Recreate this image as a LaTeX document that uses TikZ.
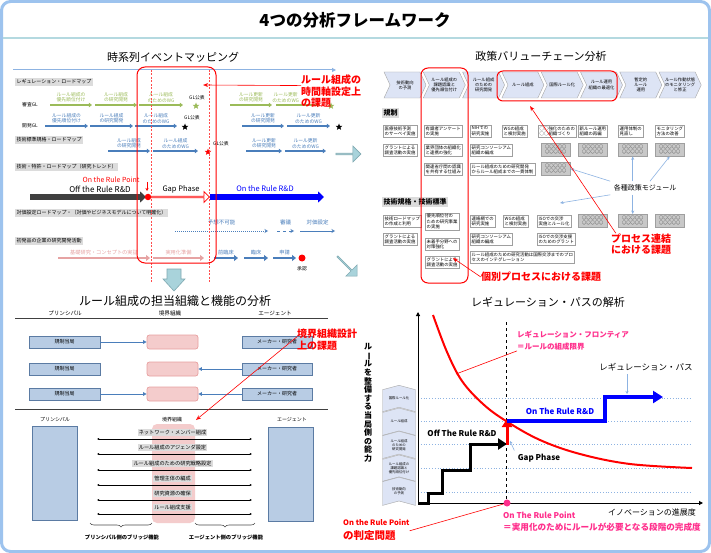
\documentclass[tikz,border=0pt]{standalone}
\usepackage{fontspec}
\setmainfont{Noto Sans CJK JP}
\usetikzlibrary{arrows.meta,calc,positioning,shapes.symbols,shapes.arrows,shapes.geometric,decorations.pathreplacing}

\definecolor{frameblue}{HTML}{9DC3EE}
\definecolor{titleline}{HTML}{B4D9E0}
\definecolor{tlblue}{HTML}{4A7EBB}
\definecolor{tlgreen}{HTML}{9BBB59}
\definecolor{tlpink}{HTML}{E6A3A3}
\definecolor{lblgray}{HTML}{DCDCDC}
\definecolor{chevfill}{HTML}{DDE4F5}
\definecolor{modgray}{HTML}{C8C8C8}
\definecolor{roleblue}{HTML}{B8CCE4}
\definecolor{roledraw}{HTML}{5B7BA3}
\definecolor{bndpink}{HTML}{F4CCCC}
\definecolor{bnddraw}{HTML}{E8A0A0}
\definecolor{tealfill}{HTML}{A9D3DB}
\definecolor{tealdraw}{HTML}{7FA9B1}
\definecolor{hotpink}{HTML}{FF2E8C}
\definecolor{lineblue}{HTML}{8DB3E2}
\definecolor{darkarr}{HTML}{404040}

\newcommand{\fsz}[1]{\fontsize{#1}{\dimexpr #1pt*6/5\relax}\selectfont}

\begin{document}
\begin{tikzpicture}[x=1pt,y=-1pt,
  qtitle/.style={font=\fsz{11}},
  evtext/.style={font=\fsz{4.8},align=center,inner sep=0.5pt},
  rmlabel/.style={fill=lblgray,font=\fsz{5},inner sep=1.3pt,anchor=west},
  seclabel/.style={fill=lblgray,font=\bfseries\fsz{7},inner sep=1.5pt,anchor=west},
  tlarr/.style={line width=1.5pt,-{Triangle[length=3.2pt,width=4.5pt]}},
  bigarr/.style={line width=6pt,-{Triangle[length=6pt,width=11pt]}},
  starnode/.style={star,star points=5,star point ratio=2.3,inner sep=0pt,minimum size=7pt},
  dotnode/.style={circle,inner sep=0pt,minimum size=6.5pt},
  tealarr/.style={single arrow,fill=tealfill,draw=tealdraw,line width=0.6pt,single arrow head extend=3pt,inner sep=0pt},
  chev/.style={signal,signal to=east,signal from=west,signal pointer angle=130,draw=gray!70,fill=chevfill,minimum width=42pt,minimum height=26pt,inner sep=0pt,font=\fsz{4.3},align=center},
  vchev/.style={signal,signal to=north,signal from=south,signal pointer angle=150,draw=gray!70,fill=chevfill,minimum width=33pt,minimum height=23pt,inner sep=0pt,font=\fsz{3.4},align=center},
  vcbox/.style={draw=gray!75,fill=white,font=\fsz{4.4},align=left,inner xsep=1.5pt,inner ysep=1pt,anchor=north west,minimum height=12pt},
  modbox/.style={draw=gray!75,fill=modgray,font=\fsz{4.2},align=center,inner sep=0.6pt,anchor=north west,minimum width=29pt,minimum height=13pt},
  callout/.style={text=red,font=\bfseries\fontsize{10}{11.5}\selectfont,align=left,inner sep=0pt},
  redline/.style={red,line width=0.6pt,-{Stealth[length=5pt,width=4pt,open]}},
  modline/.style={lineblue,line width=0.6pt,-{Stealth[length=3.5pt,width=3pt]}},
  rolebox/.style={draw=roledraw,fill=roleblue,line width=0.7pt,minimum width=71pt,minimum height=12pt,font=\fsz{5}},
  bndbox/.style={draw=bnddraw,fill=bndpink,line width=0.7pt,rounded corners=2.5pt,minimum width=51pt,minimum height=14pt},
  flow/.style={tlblue,line width=0.8pt,-{Triangle[length=3.5pt,width=3.5pt]}},
  bridge/.style={line width=0.8pt,{Latex[length=2.2pt,width=2.4pt]}-{Latex[length=2.2pt,width=2.4pt]}},
  fnlabel/.style={fill=lblgray,font=\fsz{5.2},inner sep=1.2pt},
  colhead/.style={font=\fsz{5.6}},
  pinktext/.style={text=hotpink,font=\bfseries\fsz{8},anchor=west,inner sep=0pt}]

% frame and main title
\useasboundingbox (0,0) rectangle (711,553);
\draw[frameblue,line width=3pt,rounded corners=9pt,fill=white] (1.5,1.5) rectangle (709.5,551.5);
\draw[titleline,line width=2pt] (3,38) -- (708,38);
\node[font=\bfseries\fsz{16.5}] (maintitle) at (355,20) {4つの分析フレームワーク};

\node[qtitle] (tlttl) at (173,57) {時系列イベントマッピング};
\node[qtitle] (trttl) at (541,56) {政策バリューチェーン分析};
\node[qtitle,font=\fsz{12}] (blttl) at (175,301) {ルール組成の担当組織と機能の分析};
\node[qtitle] (brttl) at (548,302) {レギュレーション・パスの解析};

%% time line mapping
\coordinate (axs) at (13,70);
\coordinate (axe) at (336,70);
\draw[lineblue,line width=1pt,-{Triangle[length=4pt,width=4pt]}] (axs) -- (axe);

\node[rmlabel] (lrm) at (15,82) {レギュレーション・ロードマップ};
\node[rmlabel] (ltech) at (15,140) {技術標準規格・ロードマップ};
\node[rmlabel] (lpat) at (15,167) {技術・特許・ロードマップ（研究トレンド）};
\node[rmlabel] (lprice) at (15,213) {対価設定ロードマップ・（対価やビジネスモデルについて明確化）};
\node[rmlabel] (lfirm) at (15,241) {初発品の企業の研究開発活動};

\node[font=\fsz{4.8}] (gl1) at (30,105) {審査GL};
\node[font=\fsz{4.8}] (gl2) at (30,126) {開発GL};

\foreach \n/\a/\b/\p/\txt in {1/50/92/0.5/{ルール組成の\\優先順位付け},2/95/137/0.5/{ルール組成\\の研究開発},3/139/183/0.5/{ルール組成\\のためのWG},4/230/272/0.5/{ルール更新\\の研究開発},5/276/320/0.22/{ルール更新\\のためのWG}}{
  \coordinate (sa\n) at (\a,105);
  \coordinate (sb\n) at (\b,105);
  \draw[tlarr,tlgreen] (sa\n) -- (sb\n) node[pos=\p,above=1.5pt,evtext] (st\n) {\txt};
}
\node[evtext] (gp1) at (197,98) {GL公表};
\node[starnode,fill=tlgreen] (sr1) at (196,106) {};
\node[starnode,fill=tlgreen] (sr2) at (331,106) {};

\foreach \n/\a/\b/\txt in {1/45/88/{ルール組成の\\優先順位付け},2/90/133/{ルール組成\\の研究開発},3/135/177/{ルール組成\\のためのWG},4/242/284/{ルール更新\\の研究開発},5/287/330/{ルール更新\\のためのWG}}{
  \coordinate (da\n) at (\a,126);
  \coordinate (db\n) at (\b,126);
  \draw[tlarr,tlblue] (da\n) -- (db\n) node[midway,above=1.5pt,evtext] (dt\n) {\txt};
}
\node[evtext] (gp2) at (192,118) {GL公表};
\node[starnode,fill=black] (sr3) at (185,127) {};
\node[starnode,fill=black] (sr4) at (339,127) {};

\foreach \n/\a/\b/\txt in {1/108/150/{ルール組成\\の研究開発},2/153/198/{ルール組成\\のためのWG},3/246/282/{ルール更新\\の研究開発},4/285/326/{ルール更新\\のためのWG}}{
  \coordinate (ta\n) at (\a,151);
  \coordinate (tb\n) at (\b,151);
  \draw[tlarr,tlblue] (ta\n) -- (tb\n) node[midway,above=1.5pt,evtext] (tt\n) {\txt};
}
\node[evtext] (gp3) at (221,144) {GL公表};
\node[starnode,fill=red] (sr5) at (208,152) {};

% rule point phases
\node[text=red,font=\fsz{7}] (orp) at (111,180) {On the Rule Point};
\coordinate (orpa) at (147,182);
\coordinate (orpb) at (147,191);
\draw[red,line width=0.6pt,-{Stealth[length=3pt,width=3pt]}] (orpa) -- (orpb);
\coordinate (offs) at (30,197);
\coordinate (offe) at (146,197);
\draw[bigarr,darkarr] (offs) -- (offe);
\node[font=\fsz{8}] (offlbl) at (100,189) {Off the Rule R\&D};
\node[single arrow,draw=red,fill=white,line width=0.8pt,minimum height=58pt,minimum width=11pt,single arrow head extend=2.5pt,inner sep=0pt,anchor=west] (gaparr) at (151,197) {};
\node[font=\fsz{7.5}] (gaplbl) at (181,189) {Gap Phase};
\coordinate (ons) at (210,197);
\coordinate (one) at (324,197);
\draw[bigarr,blue] (ons) -- (one);
\node[text=blue,font=\fsz{7.5}] (onlbl) at (265,189) {On the Rule R\&D};
\node[dotnode,fill=red] (rpt) at (148,197) {};

% price and firm rows
\coordinate (pa1) at (175,231); \coordinate (pb1) at (268,231);
\coordinate (pa2) at (277,231); \coordinate (pb2) at (294,231);
\coordinate (pa3) at (300,231); \coordinate (pb3) at (335,231);
\draw[tlblue,line width=1pt,densely dotted,-{Stealth[length=3.5pt,width=4pt,open]}] (pa1) -- (pb1) node[midway,above=2pt,font=\fsz{5.5}] (pl1) {予想不可能};
\draw[tlblue,line width=1pt,dashed,-{Stealth[length=3.5pt,width=4pt,open]}] (pa2) -- (pb2) node[midway,above=2pt,font=\fsz{5.5}] (pl2) {審議};
\draw[tlblue,line width=1pt,-{Stealth[length=3.5pt,width=4pt,open]}] (pa3) -- (pb3) node[midway,above=2pt,font=\fsz{5.5}] (pl3) {対価設定};

\foreach \n/\a/\b/\c/\txt in {1/58/150/tlpink/{基礎研究・コンセプトの実証},2/153/204/tlpink/{実用化準備},3/214/238/tlblue/{前臨床},4/244/268/tlblue/{臨床},5/273/296/tlblue/{申請}}{
  \coordinate (fa\n) at (\a,258);
  \coordinate (fb\n) at (\b,258);
  \draw[\c,line width=2pt,-{Triangle[length=4pt,width=6pt]}] (fa\n) -- (fb\n) node[midway,above=2pt,font=\fsz{5.2},inner sep=0.5pt] (ft\n) {\txt};
}
\node[dotnode,fill=red,minimum size=7pt] (appr) at (302,258) {};
\node[font=\fsz{4.8}] (apprl) at (302,269) {承認};

% time axis issue
\coordinate (gl1a) at (151,70); \coordinate (gl1b) at (151,283);
\coordinate (gl2a) at (209,70); \coordinate (gl2b) at (209,283);
\draw[red!70!white,dash pattern=on 2pt off 1.5pt,line width=0.8pt] (gl1a) -- (gl1b);
\draw[red!70!white,dash pattern=on 2pt off 1.5pt,line width=0.8pt] (gl2a) -- (gl2b);
\draw[red,line width=1pt,rounded corners=8pt] (137,67) rectangle (216,263);
\node[callout,anchor=north west] (co1) at (301,75) {ルール組成の\\時間軸設定上\\の課題};
\coordinate (co1tip) at (203,85);
\draw[redline] ([yshift=6pt]co1.west) -- (co1tip);

% teal arrows between panels
\node[tealarr,minimum height=25pt,minimum width=16pt] (tar1) at (348,154) {};
\fill[tealfill,draw=tealdraw,line width=0.6pt] (167,269) -- (181,269) -- (181,279) -- (185,279) -- (174,291) -- (163,279) -- (167,279) -- cycle;
\node[tealarr,rotate=-45,minimum height=28pt,minimum width=16pt] (tar3) at (347,266) {};

%% value chain
\foreach \i/\txt in {0/{技術動向\\の予測},1/{ルール組成の\\課題認識と\\優先順位付け},2/{ルール組成\\のための\\研究開発},3/{ルール組成},4/{国際ルール化},5/{ルール運用\\組織の最適化},6/{暫定的\\ルール\\運用},7/{ルール作動状態\\のモニタリング\\と修正}}
  \node[chev] (vc\i) at ({405+39.3*\i},85) {\txt};

\node[seclabel] (lreg) at (382,113) {規制};
\node[vcbox] (ra1) at (383,125) {医療技術予測\\のサーベイ実施};
\node[vcbox] (ra2) at (424,125) {有識者アンケート\\の実施};
\node[vcbox] (ra3) at (470,125) {NIHでの\\研究実施};
\node[vcbox] (ra4) at (502,125) {WGの組成\\と検討実施};
\node[vcbox] (ra5) at (538,125) {○○強化のための\\○○組織づくり};
\node[vcbox] (ra6) at (578,125) {新ルール運用\\組織の再編};
\node[vcbox] (ra7) at (618,125) {運用体制の\\見直し};
\node[vcbox] (ra8) at (655,125) {モニタリング\\方法の改善};
\node[vcbox] (rb1) at (383,144) {グラントによる\\調査活動の実施};
\node[vcbox] (rb2) at (424,144) {業界団体の組織化\\と連携の強化};
\node[vcbox] (rb3) at (470,144) {研究コンソーシアム\\組織の編成};
\node[modbox] (m2a) at (541,143) {○○○○○\\○○○○○};
\node[modbox] (m2b) at (578,143) {○○○○○\\○○○○○};
\node[modbox] (m2c) at (618,143) {○○○○○\\○○○○○};
\node[modbox] (m2d) at (655,143) {○○○○○\\○○○○○};
\node[vcbox] (rc2) at (424,163) {関連省庁間の認識\\を共有する仕組み};
\node[vcbox] (rc3) at (470,163) {ルール組成のための研究開発\\からルール組成までの一貫体制};
\node[modbox] (m3a) at (541,162) {○○○○○\\○○○○○};

\node[seclabel] (lstd) at (382,202) {技術規格・技術標準};
\node[vcbox] (sa1) at (383,215) {技術ロードマップ\\の作成と利用};
\node[vcbox] (sa2) at (425,213) {優先順位付の\\ための研究事業\\の実施};
\node[vcbox] (sa3) at (470,215) {連絡網での\\研究実施};
\node[vcbox] (sa4) at (503,215) {WGの組成\\と検討実施};
\node[vcbox] (sa5) at (537,215) {ISOでの交渉\\実施とルール化};
\node[modbox] (mAa) at (578,214) {○○○○○\\○○○○○};
\node[modbox] (mAb) at (618,214) {○○○○○\\○○○○○};
\node[modbox] (mAc) at (655,214) {○○○○○\\○○○○○};
\node[vcbox] (sb1) at (383,233) {グラントによる\\調査活動の実施};
\node[vcbox] (sb2) at (425,238) {未着手分野への\\対策強化};
\node[vcbox] (sb3) at (470,233) {研究コンソーシアム\\組織の編成};
\node[vcbox] (sb5) at (537,233) {ISOでの交渉支援\\のためのグラント};
\node[vcbox] (sc2) at (425,256) {グラントによる\\調査活動の実施};
\node[vcbox] (sc3) at (470,251) {ルール組成のための研究活動は国際交渉までのプロ\\セスのインテグレーション};

\node[font=\fsz{7}] (mods) at (645,188) {各種政策モジュール};
\coordinate (modtip) at (560,203);
\draw[modline] (mods.north west) -- (m3a.east);
\draw[modline] (m2c.south |- mods.north) -- (m2c.south);
\draw[modline] ([xshift=5pt]mods.north) -- (m2d.south);
\draw[modline] (mods.south west) -- (modtip);
\draw[modline] (mAb.north |- mods.south) -- (mAb.north);

\draw[red,line width=1pt,rounded corners=7pt] (421,68) rectangle (468,283);
\draw[red,line width=1pt,rounded corners=6pt] (497,71) rectangle (617,101);
\node[callout,align=center] (co2) at (641,244) {プロセス連結\\における課題};
\coordinate (co2tip) at (530,106);
\draw[redline] ([xshift=5pt]co2.north west) -- (co2tip);
\node[callout] (co3) at (541,277) {個別プロセスにおける課題};
\coordinate (co3tip) at (453,258);
\draw[redline] (co3.west) -- (co3tip);

%% boundary organisation
\node[colhead] (hp1) at (65,313) {プリンシパル};
\node[colhead] (hb1) at (170,313) {境界組織};
\node[colhead] (ha1) at (275,313) {エージェント};
\draw[darkarr,line width=1pt] (15,318) -- (328,318);
\foreach \r/\y in {1/342,2/369,3/394}{
  \node[rolebox] (pr\r) at (64.5,\y) {規制当局};
  \node[bndbox] (bd\r) at (172.5,\y) {};
  \node[rolebox,minimum width=70pt] (ag\r) at (277,\y) {メーカー・研究者};
}
\draw[flow] (pr1) -- (bd1);
\draw[flow] (ag2) -- (bd2);
\draw[flow] (pr3) -- (bd3);
\draw[flow] (ag3) -- (bd3);
\draw[darkarr,line width=1pt] (15,409) -- (328,409);
\node[callout,anchor=north west] (co4) at (297,329) {境界組織設計\\上の課題};
\coordinate (co4tip) at (196,420);
\draw[redline] ([yshift=3pt]co4.west) -- (co4tip);

\node[colhead,font=\fsz{5}] (hp2) at (55,420) {プリンシパル};
\node[colhead,font=\fsz{5}] (hb2) at (172,420) {境界組織};
\node[colhead,font=\fsz{5}] (ha2) at (292,420) {エージェント};
\node[draw=roledraw,fill=roleblue,line width=0.8pt,minimum width=45pt,minimum height=94pt] (prt) at (54.5,473) {};
\node[draw=roledraw,fill=roleblue,line width=0.8pt,minimum width=45pt,minimum height=94pt] (agt) at (290.5,474) {};
\node[fill=bndpink,rounded corners=5pt,minimum width=43pt,minimum height=99pt] (bdt) at (173.5,473.5) {};
\foreach \k/\y/\txt in {1/439/ネットワーク・メンバー組成,2/454/ルール組成のアジェンダ設定,3/470/ルール組成のための研究戦略設定,4/485/管理主体の編成,5/500/研究資源の確保,6/514/ルール組成支援}{
  \coordinate (fl\k) at (97,\y);
  \coordinate (fr\k) at (252,\y);
  \draw[bridge] (fl\k) -- (fr\k);
  \node[fnlabel] (fn\k) at (172.5,\y-6.5) {\txt};
}
\coordinate (br1a) at (90,523); \coordinate (br1b) at (152,523);
\coordinate (br2a) at (195,523); \coordinate (br2b) at (255,523);
\draw[gray!60!black,line width=0.6pt,decorate,decoration={brace,amplitude=4pt,mirror}] (br1a) -- (br1b);
\draw[gray!60!black,line width=0.6pt,decorate,decoration={brace,amplitude=4pt,mirror}] (br2a) -- (br2b);
\node[font=\bfseries\fsz{5.3}] (bl1) at (122,537) {プリンシパル側のブリッジ機能};
\node[font=\bfseries\fsz{5.3}] (bl2) at (226,537) {エージェント側のブリッジ機能};

%% regulation path
\coordinate (org) at (418,503);
\coordinate (ytop) at (418,312);
\coordinate (xend) at (703,503);
\foreach \k/\y in {1/398,2/421,3/444,4/468,5/492}{
  \coordinate (dl\k) at (418,\y);
  \coordinate (dr\k) at (690,\y);
  \draw[lineblue,dotted,line width=0.8pt] (dl\k) -- (dr\k);
}
\draw[line width=1pt,-{Triangle[length=4pt,width=4pt]}] (org) -- (ytop);
\draw[line width=1pt,-{Triangle[length=4pt,width=4pt]}] (org) -- (xend);
\foreach \i/\txt in {0/国際ルール化,1/ルール組成,2/{ルール組成\\のための\\研究開発},3/{ルール組成の\\課題認識と\\優先順位付け},4/{技術動向\\の予測}}
  \node[vchev] (hc\i) at (399,{398.5+23.2*\i}) {\txt};
\node[font=\bfseries\fontsize{8}{8.6}\selectfont,align=center] (ylab) at (368,403) {ル\\\rotatebox[origin=c]{-90}{ー}\\ル\\を\\整\\備\\す\\る\\当\\局\\側\\の\\能\\力};

\coordinate (ptop) at (506,322);
\coordinate (pbot) at (506,503);
\draw[dashed,line width=0.8pt] (ptop) -- (pbot);
\draw[red,line width=2pt] plot[smooth,tension=0.6] coordinates {(433,315) (447,352) (462,381) (483,404) (506,421) (540,440) (580,454) (630,464) (692,468)};

\coordinate (st0) at (418,503);
\coordinate (st4) at (507,444);
\draw[line width=3pt,-{Triangle[length=9pt,width=11pt]}] (st0) -- (428,503) -- (428,493) -- (442,493) -- (442,470) -- (470,470) -- (470,444) -- (st4);
\coordinate (gapa) at (507,445);
\coordinate (gapb) at (507,419);
\draw[red,line width=3pt,-{Triangle[length=8pt,width=10pt]}] (gapa) -- (gapb);
\coordinate (rpa) at (507,421);
\coordinate (rpb) at (663,397);
\draw[blue,line width=3.2pt,-{Triangle[length=10pt,width=12pt]}] (rpa) -- (605,421) -- (605,397) -- (rpb);

\node[text=blue,font=\bfseries\fsz{8}] (onrd) at (560,411) {On The Rule R\&D};
\node[font=\bfseries\fsz{8}] (offrd) at (462,433) {Off The Rule R\&D};
\node[font=\bfseries\fsz{8}] (gapph) at (539,458) {Gap Phase};
\coordinate (gaptip) at (510,441);
\draw[lineblue,line width=0.6pt,-{Stealth[length=3pt,width=3pt]}] (gapph.north west) -- (gaptip);

\node[pinktext,font=\bfseries\fsz{7.5}] (front1) at (517,335) {レギュレーション・フロンティア};
\node[pinktext,font=\bfseries\fsz{7.5}] (front2) at (517,347) {＝ルールの組成限界};
\coordinate (fronttip) at (456,374);
\draw[red,line width=0.6pt] (front2.south west) -- (fronttip);
\node[font=\fsz{8.5}] (rpath) at (646,367) {レギュレーション・パス};
\coordinate (rpathtip) at (627,394);
\draw[lineblue,line width=0.6pt,-{Stealth[length=3pt,width=3pt]}] (rpath.south -| rpathtip) -- (rpathtip);

\node[dotnode,fill=hotpink,minimum size=7pt] (onpt) at (507,503) {};
\node[pinktext] (onpt1) at (503,515) {On The Rule Point};
\node[pinktext,font=\bfseries\fsz{8.6}] (onpt2) at (503,527) {＝実用化のためにルールが必要となる段階の完成度};
\node[font=\fsz{8}] (xlab) at (652,512) {イノベーションの進展度};

\node[text=red,font=\bfseries\fsz{7.5},anchor=west,inner sep=0pt] (judge1) at (343,522) {On the Rule Point};
\node[text=red,font=\bfseries\fsz{10.5},anchor=west,inner sep=0pt] (judge2) at (343,536) {の判定問題};
\draw[red,line width=0.6pt] (judge1.east |- judge2.north) -- (onpt);
\end{tikzpicture}
\end{document}
